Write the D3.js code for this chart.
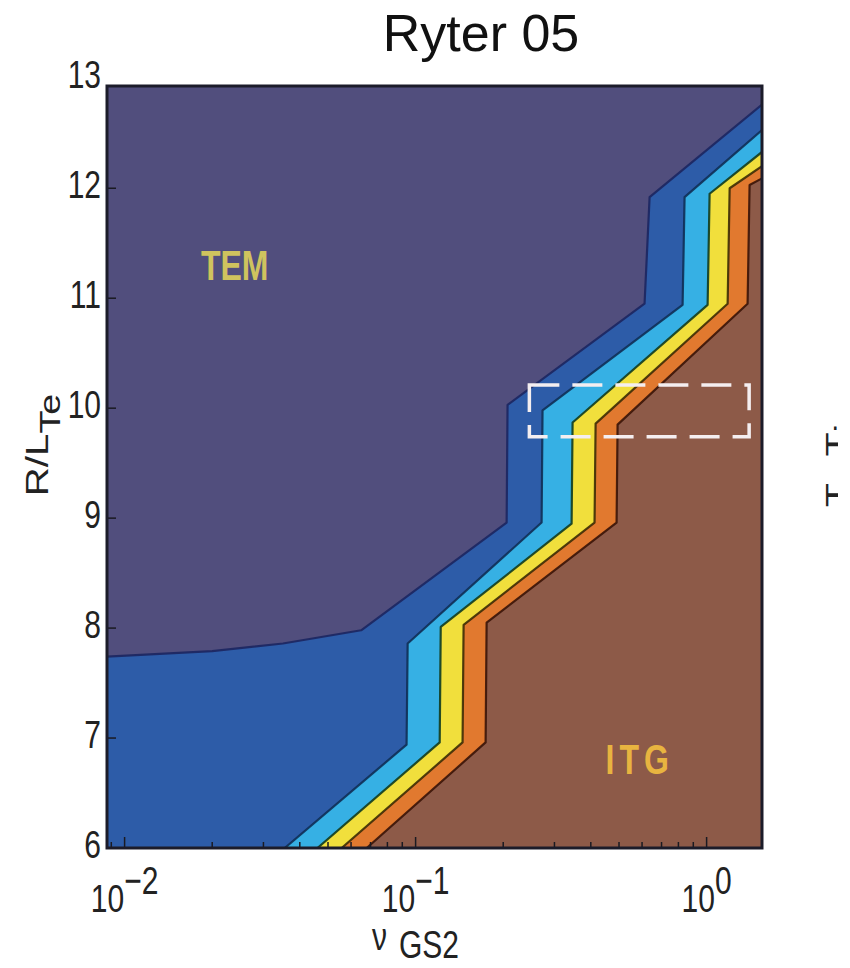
<!DOCTYPE html>
<html><head><meta charset="utf-8">
<script src="https://cdn.jsdelivr.net/npm/d3@7"></script>
<style>body{margin:0;background:#fff}svg{display:block}</style>
</head><body>
<script>
// ---------- data ----------
const chartTitle = "Ryter 05";
const xDomain = [0.0087, 1.55];          // nu_GS2 range shown
const yDomain = [6, 12.93];              // R/L_Te range shown
const xMajorTicks = [0.01, 0.1, 1];
const xTickExponents = ["\u22122", "\u22121", "0"];
const yTickValues = [6, 7, 8, 9, 10, 11, 12, 13];

const bandColors = ["#514e7d", "#2d5ca8", "#36b0e4", "#f1df3c", "#e1792f", "#8d5a48"];
const lineColors = ["#1c2660", "#0f2f55", "#123c1e", "#3c2c06", "#3a1408"];

// contour boundaries (nu, R/L_Te), from low-left to upper-right
const contour1Nu = [0.0087, 0.02, 0.035, 0.065, 0.2055, 0.207, 0.612, 0.637, 1.55];
const contour1R  = [7.74, 7.79, 7.86, 7.98, 8.96, 10.03, 10.95, 11.92, 12.76];
const contour2Nu = [0.0355, 0.0931, 0.0939, 0.271, 0.273, 0.827, 0.840, 1.55];
const contour2R  = [6.0, 6.94, 7.86, 8.96, 9.98, 10.94, 11.92, 12.53];
const contour3Nu = [0.046, 0.121, 0.122, 0.3436, 0.3463, 1.008, 1.024, 1.55];
const contour3R  = [6.0, 6.96, 8.01, 8.95, 9.87, 10.94, 11.95, 12.33];
const contour4Nu = [0.0557, 0.145, 0.1462, 0.412, 0.4155, 1.181, 1.20, 1.55];
const contour4R  = [6.0, 6.96, 8.03, 8.96, 9.86, 10.95, 12.0, 12.2];
const contour5Nu = [0.0679, 0.174, 0.1754, 0.4905, 0.4944, 1.383, 1.405, 1.55];
const contour5R  = [6.0, 6.96, 8.05, 8.96, 9.85, 10.95, 12.03, 12.09];

const boxNu = [0.246, 1.40];
const boxR  = [9.74, 10.21];

const regionNames = ["TEM", "ITG"];
const regionNu = [0.0239, 0.589];
const regionR  = [11.29, 6.8];
const regionColors = ["#cfc35e", "#e8b440"];

// ---------- layout ----------
const W = 850, H = 968;
const plot = {left: 107, right: 762, top: 86, bottom: 848};
const FONT = "'Liberation Sans', Arial, Helvetica, sans-serif";
const STRETCH = 1.3;

const svg = d3.select("body").append("svg").attr("width", W).attr("height", H);
svg.append("rect").attr("width", W).attr("height", H).attr("fill", "#fff");

const x = d3.scaleLog().domain(xDomain).range([plot.left, plot.right]);
const y = d3.scaleLinear().domain(yDomain).range([plot.bottom, plot.top]);

svg.append("clipPath").attr("id", "plotclip").append("rect")
  .attr("x", plot.left).attr("y", plot.top)
  .attr("width", plot.right - plot.left).attr("height", plot.bottom - plot.top);

const g = svg.append("g").attr("clip-path", "url(#plotclip)");

// background band (TEM)
g.append("rect")
  .attr("x", x(xDomain[0])).attr("y", y(yDomain[1]))
  .attr("width", x(xDomain[1]) - x(xDomain[0]))
  .attr("height", y(yDomain[0]) - y(yDomain[1]))
  .attr("fill", bandColors[0]);

const contours = [
  [contour1Nu, contour1R], [contour2Nu, contour2R], [contour3Nu, contour3R],
  [contour4Nu, contour4R], [contour5Nu, contour5R]
];
const line = d3.line().x(d => x(d[0])).y(d => y(d[1]));

contours.forEach(([nu, r], k) => {
  const pts = nu.map((n, i) => [n, r[i]]);
  const poly = pts.slice();
  poly.push([xDomain[1], yDomain[0]]);
  if (nu[0] <= xDomain[0]) poly.push([xDomain[0], yDomain[0]]);
  g.append("path").attr("d", line(poly) + "Z").attr("fill", bandColors[k + 1]);
});
contours.forEach(([nu, r], k) => {
  const pts = nu.map((n, i) => [n, r[i]]);
  g.append("path").attr("d", line(pts)).attr("fill", "none")
    .attr("stroke", lineColors[k]).attr("stroke-width", 2.2)
    .attr("stroke-linejoin", "round").attr("opacity", 0.9);
});

// dashed box
g.append("rect")
  .attr("x", x(boxNu[0])).attr("y", y(boxR[1]))
  .attr("width", x(boxNu[1]) - x(boxNu[0]))
  .attr("height", y(boxR[0]) - y(boxR[1]))
  .attr("fill", "none").attr("stroke", "#f4eef0").attr("stroke-width", 3.5)
  .attr("stroke-dasharray", "30,13");

// region labels
regionNames.forEach((name, i) => {
  g.append("text")
    .attr("transform", `translate(${x(regionNu[i])},${y(regionR[i]) + 14}) scale(1,${STRETCH})`)
    .attr("text-anchor", "middle")
    .attr("font-family", FONT).attr("font-weight", "bold").attr("font-size", 32)
    .attr("letter-spacing", i === 1 ? 5 : 0)
    .attr("fill", regionColors[i]).text(name);
});

// ticks (inside)
const xAll = x.ticks().filter(v => v >= xDomain[0] && v <= xDomain[1]);
const isMajor = v => xMajorTicks.some(m => Math.abs(m - v) / m < 1e-6);
const tickG = svg.append("g").attr("stroke", "#1a1a22").attr("stroke-width", 1.5);
xAll.forEach(v => {
  const L = isMajor(v) ? 11 : 6;
  tickG.append("line").attr("x1", x(v)).attr("x2", x(v))
    .attr("y1", plot.bottom).attr("y2", plot.bottom - L);
});
yTickValues.filter(v => v <= yDomain[1]).forEach(v => {
  tickG.append("line").attr("x1", plot.left).attr("x2", plot.left + 9)
    .attr("y1", y(v)).attr("y2", y(v));
});

// frame
svg.append("rect")
  .attr("x", plot.left).attr("y", plot.top)
  .attr("width", plot.right - plot.left).attr("height", plot.bottom - plot.top)
  .attr("fill", "none").attr("stroke", "#1c1c2a").attr("stroke-width", 3);

// y tick labels
yTickValues.forEach(v => {
  svg.append("text")
    .attr("transform", `translate(101,${y(v) + 10}) scale(1,${STRETCH})`)
    .attr("text-anchor", "end").attr("font-family", FONT).attr("font-size", 30)
    .attr("fill", "#222").text(v);
});

// x tick labels
xMajorTicks.forEach((v, i) => {
  const t = svg.append("text")
    .attr("transform", `translate(${x(v)},912) scale(1,${STRETCH})`)
    .attr("text-anchor", "middle").attr("font-family", FONT).attr("font-size", 30)
    .attr("fill", "#222");
  t.append("tspan").text("10");
  t.append("tspan").attr("dy", -14).text(xTickExponents[i]);
});

// axis labels
const xl = svg.append("text")
  .attr("transform", `translate(372,950) scale(1,${STRETCH})`)
  .attr("font-family", FONT).attr("font-size", 30).attr("fill", "#222");
xl.append("tspan").text("\u03bd");
xl.append("tspan").attr("dx", 12).attr("dy", 6).text("GS2");

const yl = svg.append("text")
  .attr("transform", `translate(48,445) scale(1,${STRETCH}) rotate(-90)`)
  .attr("text-anchor", "middle").attr("font-family", FONT).attr("font-size", 31)
  .attr("fill", "#222");
yl.append("tspan").text("R/L");
yl.append("tspan").attr("dy", 12).attr("font-size", 29).text("Te");

// clipped label from the neighbouring panel (cut at the picture edge, as in the reference)
svg.append("clipPath").attr("id", "edgeclip").append("rect")
  .attr("x", 800).attr("y", 380).attr("width", 38).attr("height", 160);
const edge = svg.append("g").attr("clip-path", "url(#edgeclip)")
  .append("text")
  .attr("transform", `translate(846,507) scale(1,${STRETCH}) rotate(-90)`)
  .attr("font-family", FONT).attr("font-size", 30).attr("fill", "#222");
edge.append("tspan").text("T");
edge.append("tspan").attr("dy", 10).text("e");
edge.append("tspan").attr("dy", -10).attr("dx", 4).text("T");
edge.append("tspan").attr("dy", 10).text("i");

// title
svg.append("text").attr("x", 481).attr("y", 51)
  .attr("text-anchor", "middle").attr("font-family", FONT).attr("font-size", 52)
  .attr("fill", "#111").text(chartTitle);
</script>
</body></html>
